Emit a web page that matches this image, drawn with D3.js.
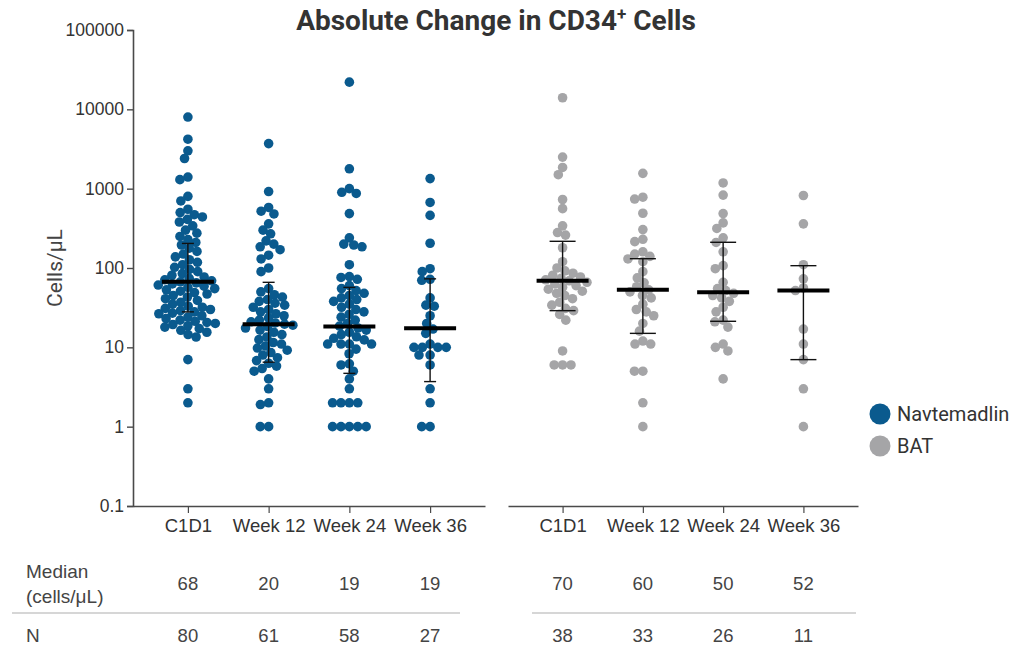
<!DOCTYPE html>
<html>
<head>
<meta charset="utf-8">
<script src="https://cdn.jsdelivr.net/npm/d3@7"></script>
<style>
  html, body { margin: 0; padding: 0; background: #ffffff; }
  svg { display: block; font-family: Roboto, "Noto Sans", sans-serif; }
</style>
</head>
<body>
<svg id="chart" width="1013" height="652"></svg>
<script>
// ---------------- data ----------------
const categories = ["C1D1", "Week 12", "Week 24", "Week 36"];
const groups = ["Navtemadlin", "BAT"];
const yTicks = [0.1, 1, 10, 100, 1000, 10000, 100000];

const navC1D1 = [8000, 4200, 3000, 2400, 1400, 1300, 800, 700, 550, 500,
  470, 440, 410, 380, 340, 300, 275, 250, 228, 210,
  195, 178, 162, 150, 138, 127, 118, 110, 102, 96,
  90, 85, 81, 77, 74, 71, 69, 67, 65, 63,
  61, 59, 57, 55, 53, 51, 49, 47, 45, 43,
  41, 39, 37, 35, 33, 32, 31, 30, 29, 28,
  27, 26.5, 25, 24, 23, 22, 21.3, 20.6, 20, 19.4,
  18.7, 18, 17.2, 16.4, 15.5, 14.5, 13.5, 7, 3, 2];
const navWk12 = [3700, 920, 580, 520, 480, 360, 300, 270, 220, 200, 185, 170, 145, 130, 100, 90,
  55, 50, 46, 43, 40, 38, 36, 34, 32, 30, 28, 26.5, 25, 23.5, 22,
  21, 20.3, 19.6, 19, 18.3, 17.5, 16.5, 15.5, 14.5, 13.5, 12.5, 11.5, 11, 10.4, 9.8,
  9.2, 8.6, 8, 7.4, 6.8, 6.3, 5.8, 5.4, 5, 4, 3, 2, 1.9, 1, 1];
const navWk24 = [22000, 1780, 1000, 900, 870, 485, 240, 200, 195, 185, 110, 78, 76, 72, 60,
  55, 52, 48, 45, 42, 40, 38, 35, 32, 30, 28, 26, 24, 22, 20,
  18.5, 17.5, 16.5, 15.5, 14.5, 13.6, 13, 12.4, 11, 11, 11, 11, 9.5, 8.3, 6.2,
  6, 5, 4, 3, 2, 2, 2, 2, 1, 1, 1, 1, 1];
const navWk36 = [1340, 670, 460, 205, 98, 90, 72, 70, 42, 34, 33, 25, 20, 17,
  15, 11, 10, 10, 10, 10, 8, 8, 6, 3, 2, 1, 1];

const batC1D1 = [14000, 2500, 1850, 1500, 730, 560, 340, 280, 260, 180, 120, 100, 92, 86, 81, 77, 74, 71, 69,
  66, 63, 60, 57, 54, 51, 48, 45, 41, 37, 34, 31, 29, 26, 22, 9, 6, 6, 6];
const batWk12 = [1560, 780, 740, 490, 305, 230, 215, 160, 150, 140, 130, 120, 90, 75, 65, 58, 53,
  50, 45, 42, 35, 30, 28, 25, 20, 16, 12, 11, 11, 5, 5, 2, 1];
const batWk24 = [1180, 830, 485, 370, 315, 240, 210, 160, 107, 98, 66, 55, 52,
  48, 45, 42, 38, 32, 28, 22, 21, 18, 11, 10, 9, 4];
const batWk36 = [820, 360, 110, 73, 56, 52, 17, 11, 7, 3, 1];

// plotted median and interquartile error bars
const navMedianLine = [67, 19.5, 18.3, 17.4];
const navErrLow = [28, 6.5, 4.7, 3.7];
const navErrHigh = [204, 66, 57, 73];
const batMedianLine = [69, 53, 49.5, 52];
const batErrLow = [29, 15, 21.3, 7];
const batErrHigh = [217, 131, 211, 107];

// table rows
const navMedianTable = [68, 20, 19, 19];
const batMedianTable = [70, 60, 50, 52];
const navN = [80, 61, 58, 27];
const batN = [38, 33, 26, 11];

const colors = { Navtemadlin: "#0a5a8e", BAT: "#a5a5a7" };

// ---------------- layout ----------------
const svg = d3.select("#chart");
const yTop = 30, yBottom = 506;
const y = d3.scaleLog().domain([0.1, 100000]).range([yBottom, yTop]);
const xLeft = d3.scalePoint().domain(categories).range([133, 485]).padding(0.68);
const xRight = d3.scalePoint().domain(categories).range([508, 858]).padding(0.68);

const axisColor = "#4a4a4a";
const textColor = "#333333";
const sans = "'Liberation Sans', Arial, sans-serif";

// Title
const title = svg.append("text")
  .attr("x", 496).attr("y", 30)
  .attr("text-anchor", "middle")
  .attr("font-size", 28).attr("font-weight", 700).attr("fill", "#333")
  .text("Absolute Change in CD34");
title.append("tspan").attr("font-size", 17).attr("dy", -10).text("+");
title.append("tspan").attr("dy", 10).text(" Cells");

// Y axis
const yAxis = d3.axisLeft(y).tickValues(yTicks).tickSize(6).tickPadding(3)
  .tickFormat(d => d < 1 ? "0.1" : d3.format("d")(d));
const gy = svg.append("g").attr("transform", "translate(133,0)").call(yAxis);
gy.select(".domain").attr("stroke", axisColor).attr("stroke-width", 1.6);
gy.selectAll(".tick line").attr("stroke", axisColor).attr("stroke-width", 1.4);
gy.selectAll(".tick text").attr("font-size", 17.5).attr("fill", textColor)
  .attr("font-family", sans);

svg.append("text")
  .attr("transform", "translate(62,268) rotate(-90)")
  .attr("text-anchor", "middle")
  .attr("font-size", 21).attr("fill", "#444")
  .text("Cells/μL");

// X axes
function drawXAxis(scale) {
  const ax = d3.axisBottom(scale).tickSize(7).tickSizeOuter(0).tickPadding(6);
  const g = svg.append("g").attr("transform", `translate(0,${yBottom})`).call(ax);
  g.select(".domain").attr("stroke", axisColor).attr("stroke-width", 1.6);
  g.selectAll(".tick line").attr("stroke", axisColor).attr("stroke-width", 1.2);
  g.selectAll(".tick text").attr("font-size", 18.5).attr("fill", textColor).attr("font-family", sans);
}
drawXAxis(xLeft);
drawXAxis(xRight);

// beeswarm layout
function swarm(values, cx, diam) {
  const pts = values.map(v => ({ v, y: y(v), dx: 0 })).sort((a, b) => a.y - b.y);
  const placed = [];
  pts.forEach(p => {
    const near = placed.filter(q => Math.abs(q.y - p.y) < diam);
    const cands = [0];
    near.forEach(q => {
      const h = Math.sqrt(diam * diam - (q.y - p.y) ** 2);
      cands.push(q.dx + h, q.dx - h);
    });
    cands.sort((a, b) => Math.abs(a) - Math.abs(b) || a - b);
    for (const c of cands) {
      if (near.every(q => (q.dx - c) ** 2 + (q.y - p.y) ** 2 >= diam * diam - 0.01)) { p.dx = c; break; }
    }
    placed.push(p);
  });
  return pts.map(p => ({ v: p.v, x: cx + p.dx, y: p.y }));
}

const seriesSets = [
  { group: "Navtemadlin", scale: xLeft, data: [navC1D1, navWk12, navWk24, navWk36],
    med: navMedianLine, lo: navErrLow, hi: navErrHigh, cap: 6 },
  { group: "BAT", scale: xRight, data: [batC1D1, batWk12, batWk24, batWk36],
    med: batMedianLine, lo: batErrLow, hi: batErrHigh, cap: 13 }
];

const diam = 8.4;
seriesSets.forEach(s => {
  s.data.forEach((vals, i) => {
    const cx = s.scale(categories[i]);
    const pts = swarm(vals, cx, diam);
    svg.append("g").selectAll("circle").data(pts).join("circle")
      .attr("cx", d => d.x).attr("cy", d => d.y).attr("r", 4.8)
      .attr("fill", colors[s.group]);
  });
  // error bars and medians
  categories.forEach((c, i) => {
    const cx = s.scale(c);
    const g = svg.append("g").attr("stroke", "#111");
    g.append("line").attr("x1", cx).attr("x2", cx).attr("y1", y(s.lo[i])).attr("y2", y(s.hi[i])).attr("stroke-width", 1.4);
    g.append("line").attr("x1", cx - s.cap).attr("x2", cx + s.cap).attr("y1", y(s.lo[i])).attr("y2", y(s.lo[i])).attr("stroke-width", 1.4);
    g.append("line").attr("x1", cx - s.cap).attr("x2", cx + s.cap).attr("y1", y(s.hi[i])).attr("y2", y(s.hi[i])).attr("stroke-width", 1.4);
    g.append("line").attr("x1", cx - 26).attr("x2", cx + 26).attr("y1", y(s.med[i])).attr("y2", y(s.med[i]))
      .attr("stroke", "#000").attr("stroke-width", 4);
  });
});

// Legend
const legend = svg.append("g");
groups.forEach((gname, i) => {
  const ly = 414 + i * 32;
  legend.append("circle").attr("cx", 880).attr("cy", ly).attr("r", 10.5).attr("fill", colors[gname]);
  legend.append("text").attr("x", 897).attr("y", ly + 7).attr("font-size", 20).attr("fill", "#333").text(gname);
});

// Table
const tableColor = "#444";
svg.append("text").attr("x", 26).attr("y", 578).attr("font-size", 19).attr("font-family", sans).attr("fill", tableColor).text("Median");
svg.append("text").attr("x", 26).attr("y", 603).attr("font-size", 19).attr("font-family", sans).attr("fill", tableColor).text("(cells/μL)");
svg.append("text").attr("x", 26).attr("y", 642).attr("font-size", 19).attr("font-family", sans).attr("fill", tableColor).text("N");

function tableRow(scale, vals, yy) {
  svg.append("g").selectAll("text").data(vals).join("text")
    .attr("x", (d, i) => scale(categories[i])).attr("y", yy)
    .attr("text-anchor", "middle").attr("font-size", 18.5).attr("font-family", sans).attr("fill", tableColor)
    .text(d => d);
}
tableRow(xLeft, navMedianTable, 590);
tableRow(xRight, batMedianTable, 590);
tableRow(xLeft, navN, 642);
tableRow(xRight, batN, 642);

svg.append("line").attr("x1", 12).attr("x2", 460).attr("y1", 613).attr("y2", 613).attr("stroke", "#c8c8c8").attr("stroke-width", 1.3);
svg.append("line").attr("x1", 532).attr("x2", 856).attr("y1", 613).attr("y2", 613).attr("stroke", "#c8c8c8").attr("stroke-width", 1.3);
</script>
</body>
</html>
